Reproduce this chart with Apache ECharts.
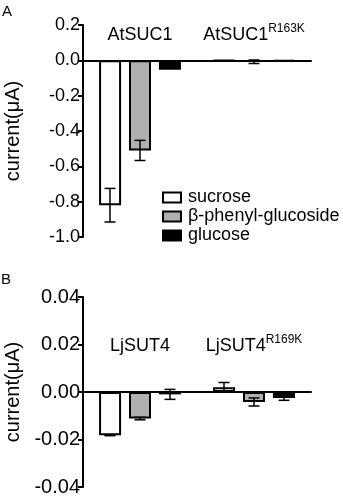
<!DOCTYPE html>
<html>
<head>
<meta charset="utf-8">
<script src="https://cdn.jsdelivr.net/npm/echarts@6/dist/echarts.min.js"></script>
<style>html,body{margin:0;padding:0;background:#fff}#c{width:343px;height:499px}</style>
</head>
<body>
<div id="c"></div>
<script>
// ---- data ----
var seriesNames = ['sucrose', 'β-phenyl-glucoside', 'glucose'];
var categoriesA = ['AtSUC1', 'AtSUC1^R163K'];
var categoriesB = ['LjSUT4', 'LjSUT4^R169K'];

var sucroseA = [-0.82, -0.003];
var sucroseErrA = [0.095, 0];
var phenylA = [-0.51, -0.008];
var phenylErrA = [0.057, 0.01];
var glucoseA = [-0.053, -0.004];
var glucoseErrA = [0, 0];

var sucroseB = [-0.0182, 0.002];
var sucroseErrB = [0.0002, 0.002];
var phenylB = [-0.0112, -0.0042];
var phenylErrB = [0.0005, 0.0017];
var glucoseB = [-0.001, -0.0025];
var glucoseErrB = [0.0021, 0.001];

var yTicksA = { min: -1.0, max: 0.2, interval: 0.2, decimals: 1 };
var yTicksB = { min: -0.04, max: 0.04, interval: 0.02, decimals: 2 };

// ---- styles ----
var FONT = 'Liberation Sans, Arial, Helvetica, sans-serif';
var barColors = ['#ffffff', '#b0b0b0', '#000000'];
var offsets = [-30, 0, 30];

function catLabel(v) {
  var p = v.split('^');
  return '{b|' + p[0] + '}' + (p[1] ? '{s|' + p[1] + '}' : '');
}

function errSeries(idx, vals, errs, sIdx) {
  return {
    type: 'custom',
    xAxisIndex: idx * 2,
    yAxisIndex: idx,
    z: 10,
    silent: true,
    data: vals.map(function (v, i) { return [i, v, errs[i]]; }),
    renderItem: function (params, api) {
      var c = api.value(0), v = api.value(1), e = api.value(2);
      if (!e) return null;
      var hi = api.coord([c, v + e]);
      var lo = api.coord([c, v - e]);
      var x = hi[0] + offsets[sIdx];
      var half = 5.5;
      var st = { stroke: '#000', lineWidth: 1.5 };
      return {
        type: 'group',
        children: [
          { type: 'line', shape: { x1: x, y1: hi[1], x2: x, y2: lo[1] }, style: st },
          { type: 'line', shape: { x1: x - half, y1: hi[1], x2: x + half, y2: hi[1] }, style: st },
          { type: 'line', shape: { x1: x - half, y1: lo[1], x2: x + half, y2: lo[1] }, style: st }
        ]
      };
    }
  };
}

function barSeries(idx, name, vals, sIdx) {
  return {
    type: 'bar',
    name: name,
    xAxisIndex: idx * 2,
    yAxisIndex: idx,
    data: vals,
    barWidth: 22,
    barGap: '36%',
    itemStyle: { color: barColors[sIdx], borderColor: '#000', borderWidth: 2 }
  };
}

function yAxis(idx, t, fs, nameGap) {
  return {
    type: 'value',
    gridIndex: idx,
    min: t.min, max: t.max, interval: t.interval,
    name: 'current(μA)',
    nameLocation: 'middle',
    nameGap: nameGap,
    nameTextStyle: { fontFamily: FONT, fontSize: 20, color: '#000' },
    splitLine: { show: false },
    axisLine: { show: true, lineStyle: { color: '#000', width: 2 } },
    axisTick: { show: true, length: 5, lineStyle: { color: '#000', width: 2 } },
    axisLabel: {
      fontFamily: FONT, fontSize: fs, color: '#000', margin: 3,
      formatter: function (v) { return v.toFixed(t.decimals); }
    }
  };
}

function xAxes(idx, cats, labelMargin) {
  return [
    {
      type: 'category', gridIndex: idx, data: cats,
      axisLine: { onZero: true, lineStyle: { color: '#000', width: 2 } },
      axisTick: { show: false }, axisLabel: { show: false }
    },
    {
      type: 'category', gridIndex: idx, data: cats, position: 'top',
      axisLine: { show: false }, axisTick: { show: false },
      axisLabel: {
        inside: true, margin: labelMargin, color: '#000', interval: 0,
        hideOverlap: false,
        formatter: catLabel,
        rich: {
          b: { fontFamily: FONT, fontSize: 18, lineHeight: 24, color: '#000' },
          s: { fontFamily: FONT, fontSize: 12, lineHeight: 12, verticalAlign: 'top', color: '#000' }
        }
      }
    }
  ];
}

var series = [];
[sucroseA, phenylA, glucoseA].forEach(function (d, i) { series.push(barSeries(0, seriesNames[i], d, i)); });
[sucroseB, phenylB, glucoseB].forEach(function (d, i) { series.push(barSeries(1, seriesNames[i], d, i)); });
series.push(errSeries(0, sucroseA, sucroseErrA, 0));
series.push(errSeries(0, phenylA, phenylErrA, 1));
series.push(errSeries(0, glucoseA, glucoseErrA, 2));
series.push(errSeries(1, sucroseB, sucroseErrB, 0));
series.push(errSeries(1, phenylB, phenylErrB, 1));
series.push(errSeries(1, glucoseB, glucoseErrB, 2));

var chart = echarts.init(document.getElementById('c'), null, { renderer: 'canvas' });
chart.setOption({
  animation: false,
  backgroundColor: '#fff',
  title: [
    { text: 'A', left: 2, top: 4, padding: 0, textStyle: { fontFamily: FONT, fontSize: 15, fontWeight: 'normal', color: '#000' } },
    { text: 'B', left: 1, top: 272, padding: 0, textStyle: { fontFamily: FONT, fontSize: 15, fontWeight: 'normal', color: '#000' } }
  ],
  legend: {
    data: seriesNames,
    orient: 'vertical',
    left: 157, top: 183,
    itemWidth: 18, itemHeight: 10, itemGap: 0,
    icon: 'rect',
    textStyle: { fontFamily: FONT, fontSize: 18, color: '#000', lineHeight: 19, padding: [0, 0, 0, 2] }
  },
  grid: [
    { left: 83, top: 25, width: 228, height: 212, containLabel: false, outerBoundsMode: 'none' },
    { left: 83, top: 297, width: 228, height: 190, containLabel: false, outerBoundsMode: 'none' }
  ],
  xAxis: xAxes(0, categoriesA, -2).concat(xAxes(1, categoriesB, 37)),
  yAxis: [yAxis(0, yTicksA, 18, 60), yAxis(1, yTicksB, 20, 60)],
  series: series
});
</script>
</body>
</html>
